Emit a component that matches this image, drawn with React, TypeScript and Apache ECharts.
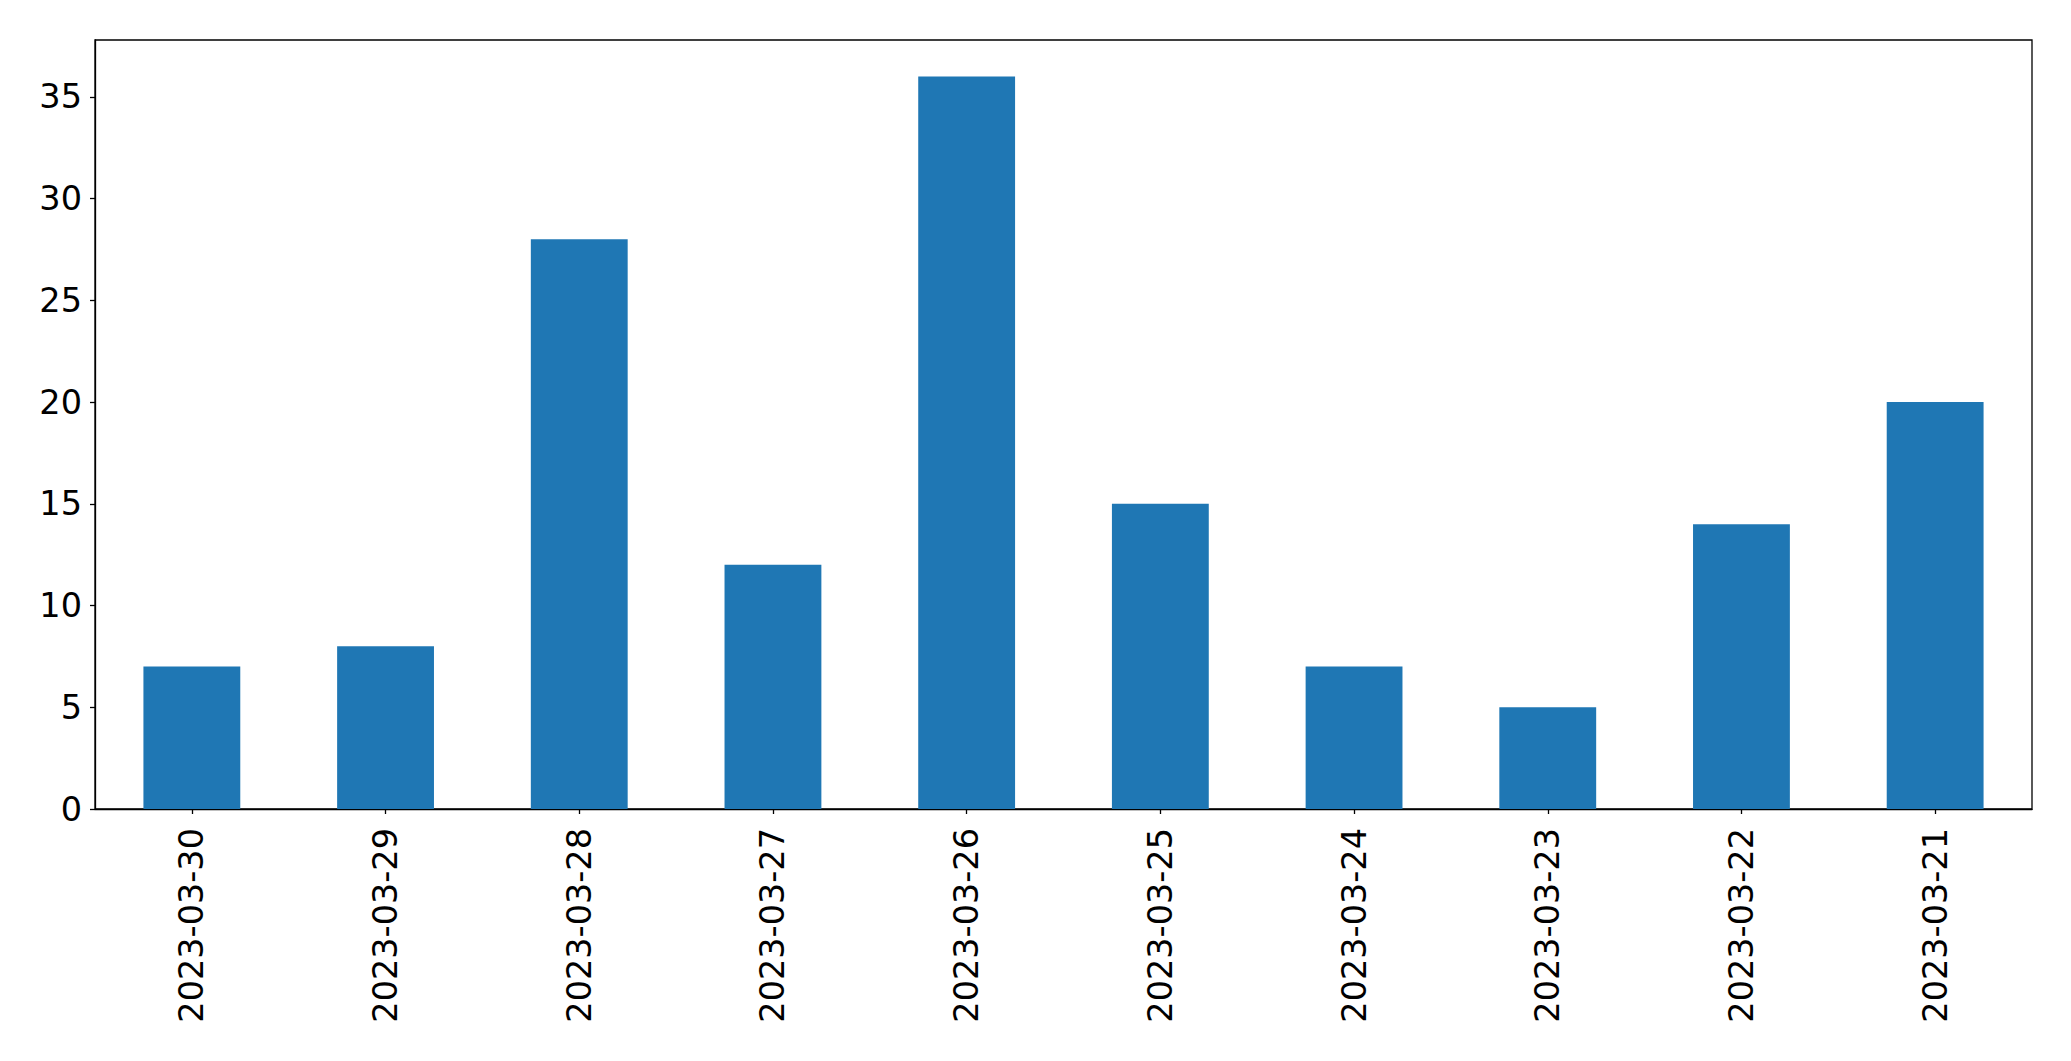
import React, { useEffect, useRef } from "react";
import * as echarts from "echarts";

const categories = [
  "2023-03-30",
  "2023-03-29",
  "2023-03-28",
  "2023-03-27",
  "2023-03-26",
  "2023-03-25",
  "2023-03-24",
  "2023-03-23",
  "2023-03-22",
  "2023-03-21",
];
const values = [7, 8, 28, 12, 36, 15, 7, 5, 14, 20];
const yMax = 37.8;
const yInterval = 5;

export default function App() {
  const ref = useRef<HTMLDivElement>(null);
  useEffect(() => {
    document.body.style.margin = "0";
    if (!ref.current) return;
    const chart = echarts.init(ref.current, null, { renderer: "svg" });
    const font = "DejaVu Sans";
    chart.setOption({
      animation: false,
      backgroundColor: "#ffffff",
      grid: {
        left: 95,
        right: 39,
        top: 40,
        bottom: 252,
        show: true,
        borderColor: "#000000",
        borderWidth: 1.3,
        backgroundColor: "transparent",
      },
      xAxis: {
        type: "category",
        data: categories,
        boundaryGap: true,
        axisLine: { show: true, lineStyle: { color: "#000000", width: 1.3 } },
        axisTick: {
          show: true,
          alignWithLabel: true,
          length: 5,
          lineStyle: { color: "#000000", width: 1.3 },
        },
        axisLabel: {
          rotate: 90,
          margin: 19,
          color: "#000000",
          fontFamily: font,
          fontSize: 33.5,
          interval: 0,
        },
        splitLine: { show: false },
      },
      yAxis: {
        type: "value",
        min: 0,
        max: yMax,
        interval: yInterval,
        axisLine: { show: true, lineStyle: { color: "#000000", width: 1.3 } },
        axisTick: {
          show: true,
          length: 5,
          lineStyle: { color: "#000000", width: 1.3 },
        },
        axisLabel: {
          margin: 13,
          color: "#000000",
          fontFamily: font,
          fontSize: 33.5,
          showMaxLabel: false,
        },
        splitLine: { show: false },
      },
      series: [
        {
          type: "bar",
          data: values,
          barWidth: "50%",
          itemStyle: { color: "#1f77b4" },
        },
      ],
    });
    return () => chart.dispose();
  }, []);
  return <div ref={ref} style={{ width: 2071, height: 1061 }} />;
}
